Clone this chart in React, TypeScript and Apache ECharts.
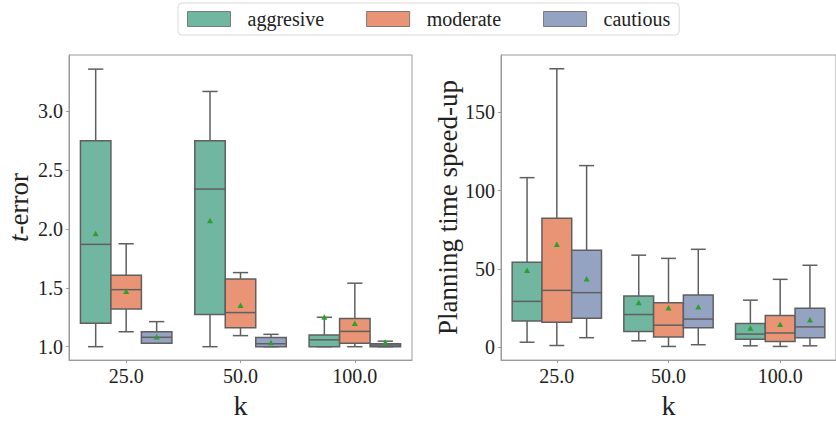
import React, { useEffect, useRef } from 'react';
import * as echarts from 'echarts';

const categories = ['25.0', '50.0', '100.0'];
const hues = ['aggresive', 'moderate', 'cautious'];
const hueColors = ['#71b6a1', '#e99575', '#95a3c3'];

// each entry: [min, q1, median, q3, max, mean]
const tErrorAggresive = [[1.0, 1.2, 1.87, 2.75, 3.36, 1.96], [1.0, 1.274, 2.34, 2.75, 3.17, 2.07], [1.0, 1.0, 1.058, 1.1, 1.25, 1.25]];
const tErrorModerate = [[1.127, 1.32, 1.485, 1.607, 1.875, 1.47], [1.094, 1.16, 1.29, 1.576, 1.63, 1.35], [1.0, 1.03, 1.13, 1.24, 1.54, 1.197]];
const tErrorCautious = [[1.03, 1.03, 1.08, 1.127, 1.213, 1.083], [1.0, 1.0, 1.025, 1.078, 1.105, 1.033], [1.0, 1.0, 1.014, 1.025, 1.047, 1.036]];

const speedupAggresive = [[3.1, 16.7, 29.2, 54.2, 108.3, 49], [4.0, 10, 20.8, 32.7, 58.75, 28.3], [0.8, 5, 8.3, 15, 30, 12.1]];
const speedupModerate = [[1.0, 15.8, 36.25, 82.3, 177.9, 65.6], [0.4, 6.5, 14, 28.3, 56.7, 25], [0.4, 3.5, 9, 20.2, 43.3, 14.4]];
const speedupCautious = [[6.0, 18.5, 34.8, 61.9, 116, 43.5], [1.5, 12.3, 17.9, 33.3, 62.5, 25.6], [0.8, 6, 12.9, 24.8, 52.3, 17.3]];

const tErrorTicks = [1.0, 1.5, 2.0, 2.5, 3.0];
const speedupTicks = [0, 50, 100, 150];

const FONT = 'Liberation Serif';
const EDGE = '#5f5f5f';
const SPINE = '#9a9a9a';
const MEAN = '#2ca02c';

function renderBox(params: any, api: any) {
  const cat = api.value(0);
  const idx = params.seriesIndex % 3;
  const band = api.size([1, 0])[0];
  const boxW = (band * 0.8) / 3;
  const center = api.coord([cat, 0])[0];
  const cx = center + (idx - 1) * boxW;
  const y = (v: number) => api.coord([cat, v])[1];
  const yMin = y(api.value(1));
  const yQ1 = y(api.value(2));
  const yMed = y(api.value(3));
  const yQ3 = y(api.value(4));
  const yMax = y(api.value(5));
  const yMean = y(api.value(6));
  const cap = boxW / 4;
  const ls = { stroke: EDGE, lineWidth: 1.5 };
  return {
    type: 'group',
    children: [
      { type: 'line', shape: { x1: cx, y1: yMin, x2: cx, y2: yQ1 }, style: ls },
      { type: 'line', shape: { x1: cx, y1: yQ3, x2: cx, y2: yMax }, style: ls },
      { type: 'line', shape: { x1: cx - cap, y1: yMin, x2: cx + cap, y2: yMin }, style: ls },
      { type: 'line', shape: { x1: cx - cap, y1: yMax, x2: cx + cap, y2: yMax }, style: ls },
      {
        type: 'rect',
        shape: { x: cx - boxW / 2, y: yQ3, width: boxW, height: yQ1 - yQ3 },
        style: { fill: hueColors[idx], stroke: EDGE, lineWidth: 1.5 },
      },
      { type: 'line', shape: { x1: cx - boxW / 2, y1: yMed, x2: cx + boxW / 2, y2: yMed }, style: ls },
      {
        type: 'polygon',
        shape: { points: [[cx, yMean - 3], [cx - 3, yMean + 2.5], [cx + 3, yMean + 2.5]] },
        style: { fill: MEAN },
      },
    ],
  };
}

function toData(rows: number[][]) {
  return rows.map((r, i) => [i, ...r]);
}

function xAxisCfg(gridIndex: number) {
  return {
    type: 'category',
    gridIndex,
    data: categories,
    boundaryGap: true,
    axisLine: { show: true, onZero: false, lineStyle: { color: SPINE, width: 1 } },
    axisTick: { show: true, alignWithLabel: true, length: 3, lineStyle: { color: SPINE } },
    axisLabel: { fontFamily: FONT, fontSize: 20, color: '#222', margin: 6 },
    splitLine: { show: false },
    name: 'k',
    nameLocation: 'middle',
    nameGap: 30,
    nameTextStyle: { fontFamily: FONT, fontSize: 28, color: '#222' },
  };
}

function yAxisCfg(gridIndex: number, min: number, max: number, ticks: number[], fmt: (v: number) => string, name: string, rich?: any) {
  return {
    type: 'value',
    gridIndex,
    min,
    max,
    splitLine: { show: false },
    axisLine: { show: true, onZero: false, lineStyle: { color: SPINE, width: 1 } },
    axisTick: { show: true, length: 3, lineStyle: { color: SPINE }, customValues: ticks },
    axisLabel: { fontFamily: FONT, fontSize: 20, color: '#222', margin: 6, customValues: ticks, formatter: fmt },
    name,
    nameLocation: 'middle',
    nameRotate: 90,
    nameGap: 37,
    nameTextStyle: { fontFamily: FONT, fontSize: 27, color: '#222', rich },
  };
}

export default function App() {
  const ref = useRef<HTMLDivElement>(null);
  useEffect(() => {
    document.body.style.margin = '0';
    const chart = echarts.init(ref.current!, null, { renderer: 'svg' });
    const groups = [
      [tErrorAggresive, tErrorModerate, tErrorCautious],
      [speedupAggresive, speedupModerate, speedupCautious],
    ];
    const series: any[] = [];
    groups.forEach((g, gi) => {
      g.forEach((rows, hi) => {
        series.push({
          type: 'custom',
          name: hues[hi],
          xAxisIndex: gi,
          yAxisIndex: gi,
          renderItem: renderBox,
          itemStyle: { color: hueColors[hi], borderColor: EDGE, borderWidth: 1 },
          encode: { x: 0, y: [1, 2, 3, 4, 5, 6] },
          data: toData(rows),
          clip: false,
        });
      });
    });
    const option: any = {
      animation: false,
      color: hueColors,
      textStyle: { fontFamily: FONT },
      legend: {
        data: hues.map((h, i) => ({ name: h, itemStyle: { color: hueColors[i], borderColor: '#7a7a7a', borderWidth: 1 } })),
        left: 178,
        top: 3,
        padding: [6, 9, 6, 9],
        itemWidth: 43,
        itemHeight: 15,
        itemGap: 42,
        icon: 'rect',
        borderColor: '#d9d9d9',
        borderWidth: 1,
        borderRadius: 4,
        textStyle: { fontFamily: FONT, fontSize: 20, color: '#222', lineHeight: 20, padding: [0, 0, 0, 12] },
      },
      grid: [
        { left: 69, top: 55, width: 343, height: 312, show: true, borderColor: SPINE, borderWidth: 1, backgroundColor: 'transparent' },
        { left: 501, top: 55, width: 341, height: 312, show: true, borderColor: SPINE, borderWidth: 1, backgroundColor: 'transparent' },
      ],
      xAxis: [xAxisCfg(0), xAxisCfg(1)],
      yAxis: [
        yAxisCfg(0, 0.886, 3.48, tErrorTicks, (v: number) => v.toFixed(1), '{i|t}-error', {
          i: { fontFamily: FONT, fontSize: 27, fontStyle: 'italic', color: '#222' },
        }),
        yAxisCfg(1, -8.33, 186.7, speedupTicks, (v: number) => String(v), 'Planning time speed-up'),
      ],
      series,
    };
    chart.setOption(option);
    return () => chart.dispose();
  }, []);
  return <div ref={ref} style={{ width: 836, height: 424 }} />;
}
